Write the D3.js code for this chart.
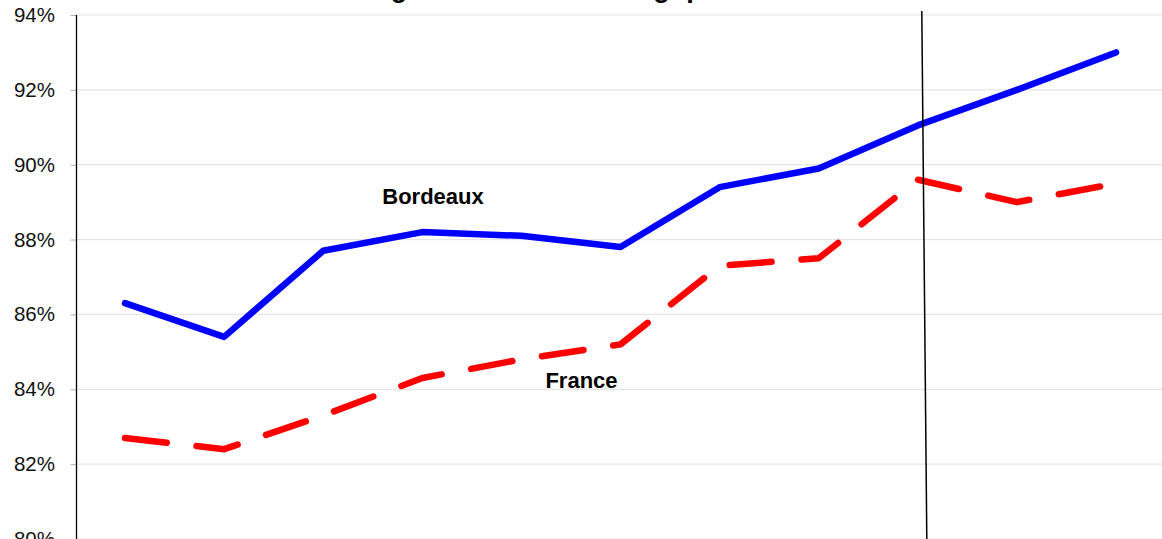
<!DOCTYPE html>
<html>
<head>
<meta charset="utf-8">
<script src="https://cdn.jsdelivr.net/npm/d3@7"></script>
<style>
  body { margin: 0; background: #fff; }
  svg { display: block; font-family: "Liberation Sans", Arial, Helvetica, sans-serif; }
</style>
</head>
<body>
<div id="chart"></div>
<script>
let width = 1162;
let height = 539;

// years (x labels fall outside the visible crop)
const years = [2012, 2013, 2014, 2015, 2016, 2017, 2018, 2019, 2020, 2021, 2022];
const bordeaux = [86.3, 85.4, 87.7, 88.2, 88.1, 87.8, 89.4, 89.9, 91.05, 92.0, 93.0];
const france = [82.7, 82.4, 83.3, 84.3, 84.8, 85.2, 87.3, 87.5, 89.6, 89.0, 89.5];
const yTicks = [80, 82, 84, 86, 88, 90, 92, 94];
const title = 'générale et technologique';

let x = d3.scalePoint().domain(years).range([125, 1116]);
let y = d3.scaleLinear().domain([80, 94]).range([539, 15]);

let svg = d3.select('#chart')
            .append('svg')
            .attr('width', width)
            .attr('height', height);

// grid lines
svg.append('g')
    .selectAll('line')
    .data(yTicks)
    .enter()
    .append('line')
    .attr('x1', 76)
    .attr('x2', width)
    .attr('y1', d => y(d))
    .attr('y2', d => y(d))
    .attr('stroke', '#e6e6e6')
    .attr('stroke-width', 1.2);

// y axis
let yAxis = d3.axisLeft(y)
    .tickValues(yTicks)
    .tickSize(6)
    .tickPadding(15.5)
    .tickFormat(d => d + '%');

let ax = svg.append('g')
    .attr('transform', 'translate(76.5,0)')
    .call(yAxis);
ax.select('.domain').remove();
ax.selectAll('.tick line').attr('stroke', '#b0b0b0');
ax.selectAll('.tick text')
    .attr('fill', '#111')
    .style('font-family', '"Liberation Sans", Arial, sans-serif')
    .style('font-size', '20.5px');

svg.append('line')
    .attr('x1', 76.5).attr('x2', 76.5)
    .attr('y1', y(94)).attr('y2', height)
    .attr('stroke', '#000')
    .attr('stroke-width', 1.3);

// title (first line is cut off above)
svg.append('text')
    .attr('x', 558)
    .attr('y', -3.5)
    .attr('text-anchor', 'middle')
    .style('font-size', '27px')
    .style('font-weight', 'bold')
    .text(title);

let line = d3.line()
    .x((d, i) => x(years[i]))
    .y(d => y(d));

svg.append('path')
    .datum(france)
    .attr('d', line)
    .attr('fill', 'none')
    .attr('stroke', '#ff0000')
    .attr('stroke-width', 6.5)
    .attr('stroke-linecap', 'round')
    .attr('stroke-linejoin', 'round')
    .attr('stroke-dasharray', '42,30');

svg.append('path')
    .datum(bordeaux)
    .attr('d', line)
    .attr('fill', 'none')
    .attr('stroke', '#0000ff')
    .attr('stroke-width', 6.5)
    .attr('stroke-linecap', 'round')
    .attr('stroke-linejoin', 'round');

// hand drawn separator line
svg.append('line')
    .attr('x1', x(2020) + 4)
    .attr('y1', 11)
    .attr('x2', x(2020) + 9)
    .attr('y2', height)
    .attr('stroke', '#000')
    .attr('stroke-width', 1.5);

// series labels
svg.append('text')
    .attr('x', 433)
    .attr('y', 204)
    .attr('text-anchor', 'middle')
    .style('font-size', '22px')
    .style('font-weight', 'bold')
    .text('Bordeaux');

svg.append('text')
    .attr('x', 581.5)
    .attr('y', 388)
    .attr('text-anchor', 'middle')
    .style('font-size', '22px')
    .style('font-weight', 'bold')
    .text('France');
</script>
</body>
</html>
